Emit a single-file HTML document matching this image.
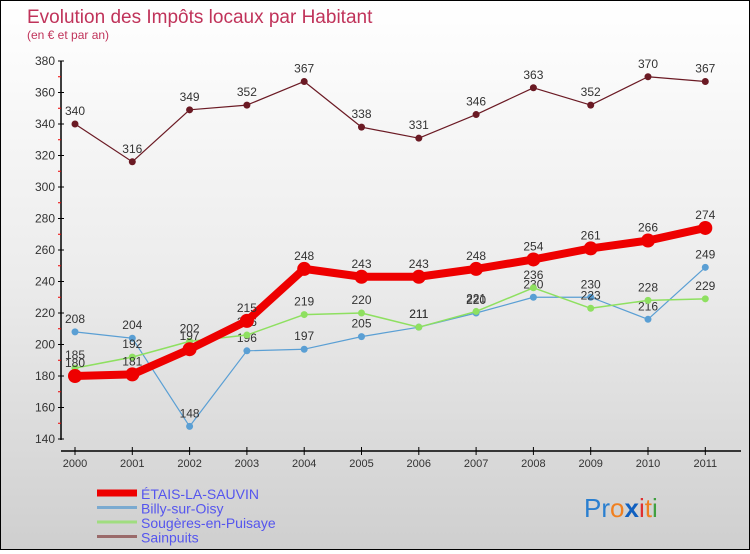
<!DOCTYPE html>
<html><head><meta charset="utf-8"><style>
body{margin:0}
#c{width:748px;height:548px;border:1px solid #000;background:linear-gradient(#fff 0%,#ececec 50%,#cfcfcf 100%);position:relative;font-family:"Liberation Sans",sans-serif}
</style></head><body>
<div id="c">
<svg width="748" height="548" id="s">
<text x="26" y="22" font-size="19" fill="#c0335a">Evolution des Impôts locaux par Habitant</text>
<text x="26" y="38" font-size="12" fill="#c0335a">(en € et par an)</text>
<g id="g"></g>
<text x="583" y="516" font-size="26" fill="#2a7fd0">Pr<tspan fill="#f08020">o</tspan><tspan fill="#1060c0" font-weight="bold">x</tspan><tspan fill="#e03030">i</tspan><tspan fill="#f08020">t</tspan><tspan fill="#40a040">i</tspan></text>
</svg>
</div>
<script>
const years=["2000","2001","2002","2003","2004","2005","2006","2007","2008","2009","2010","2011"];
const etais=[180,181,197,215,248,243,243,248,254,261,266,274];
const billy=[208,204,148,196,197,205,211,220,230,230,216,249];
const sougeres=[185,192,202,206,219,220,211,221,236,223,228,229];
const sainpuits=[340,316,349,352,367,338,331,346,363,352,370,367];
const yTicks=[140,160,180,200,220,240,260,280,300,320,340,360,380];
const NS="http://www.w3.org/2000/svg";
const g=document.getElementById('g');
const X=i=>74+i*57.3;
const Y=v=>60+(380-v)*(378/240);
function el(t,a,p){const e=document.createElementNS(NS,t);for(const k in a)e.setAttribute(k,a[k]);(p||g).appendChild(e);return e;}
let ax=el('line',{x1:60,y1:60,x2:60,y2:439,stroke:'#000','stroke-width':1.5});


let xx=el('line',{x1:60,y1:450,x2:740,y2:450,stroke:'#000','stroke-width':1.5});


yTicks.forEach((v,i)=>{
 el('line',{x1:57,y1:Y(v),x2:63,y2:Y(v),stroke:'#000'});
 if(i<yTicks.length-1)el('line',{x1:57,y1:Y(v+10),x2:60,y2:Y(v+10),stroke:'#e00'});
 const t=el('text',{x:54,y:Y(v)+4,'font-size':12,fill:'#333','text-anchor':'end'});
 t.textContent=v;
 
 
});
years.forEach((y,i)=>{
 el('line',{x1:X(i),y1:446,x2:X(i),y2:454,stroke:'#000'});
 const t=el('text',{x:X(i),y:466,'font-size':11,fill:'#333','text-anchor':'middle'});
 t.textContent=y;
 
 
});
function series(d,color,w,r,name){
 const p=el('polyline',{points:d.map((v,i)=>X(i)+','+Y(v)).join(' '),fill:'none',stroke:color,'stroke-width':w,'stroke-linejoin':'round'});
 
 
 d.forEach((v,i)=>{
  const c=el('circle',{cx:X(i),cy:Y(v),r:r,fill:color});
  
  
  const t=el('text',{x:X(i),y:Y(v)-9,'font-size':12,fill:'#333','text-anchor':'middle'});
  t.textContent=v;
  
  
 });
}
series(sainpuits,'#6b1a24',1.2,3.5,'sainpuits');
series(billy,'#5a9fd4',1.2,3.5,'billy');
series(sougeres,'#8ee060',1.5,3.5,'sougeres');
series(etais,'#ee0000',8,7,'etais');
const leg=[['ÉTAIS-LA-SAUVIN','#ee0000',7],['Billy-sur-Oisy','#7aaad0',3],['Sougères-en-Puisaye','#a0dd80',3],['Sainpuits','#9a6a6a',3]];
leg.forEach((l,i)=>{
 const y=492+i*14.5;
 const ln=el('line',{x1:96,y1:y,x2:136,y2:y,stroke:l[1],'stroke-width':l[2]});
 
 
 const t=el('text',{x:140,y:y+6,'font-size':14,fill:'#5555ee'});
 t.textContent=l[0];
 
 
});
</script>
</body></html>
